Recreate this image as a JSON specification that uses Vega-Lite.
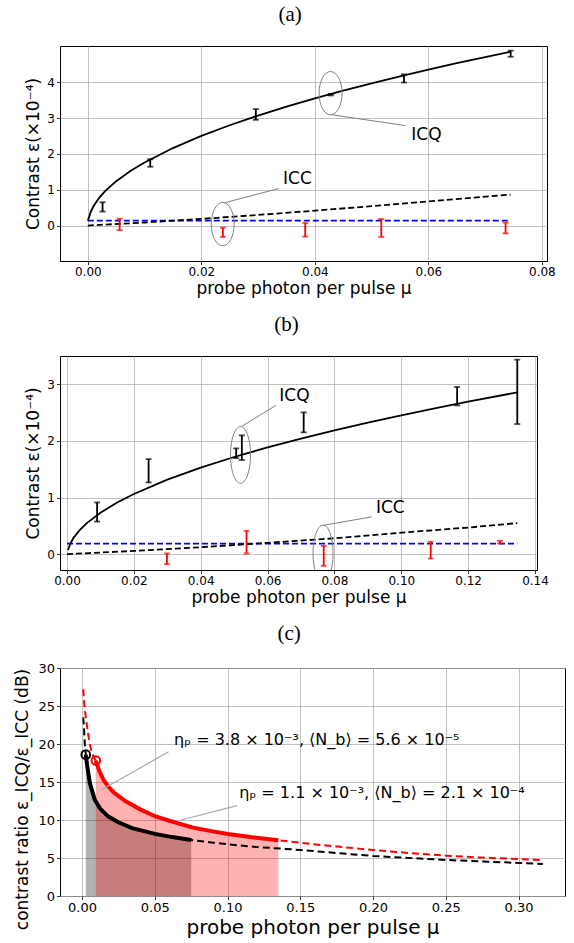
{
  "$schema": "https://vega.github.io/schema/vega-lite/v6.json",
  "padding": {"left": 12, "top": 3, "right": 2, "bottom": 1},
  "spacing": 16,
  "config": {
    "font": "DejaVu Sans",
    "view": {"stroke": "black", "strokeWidth": 1},
    "axis": {"domain": false, "grid": true, "gridColor": "#b0b0b0", "gridWidth": 0.8, "tickColor": "black", "tickSize": 3.5, "tickWidth": 0.8, "labelColor": "black", "titleColor": "black", "titleFontWeight": "normal", "labelPadding": 2, "labelFont": "DejaVu Sans", "titleFont": "DejaVu Sans"},
    "title": {"font": "Liberation Serif", "fontSize": 21, "fontWeight": "normal", "color": "black", "offset": 21, "frame": "bounds"}
  },
  "datasets": {
    "aBlue": [{"x": 0, "y": 0.135}, {"x": 0.0745, "y": 0.135}],
    "aFitC": [{"x": 0, "y": 0}, {"x": 0.01, "y": 0.085}, {"x": 0.02, "y": 0.185}, {"x": 0.03, "y": 0.295}, {"x": 0.04, "y": 0.415}, {"x": 0.05, "y": 0.54}, {"x": 0.06, "y": 0.675}, {"x": 0.0745, "y": 0.865}],
    "aFitQ": [{"x": 0, "y": 0.14}, {"x": 0.0002, "y": 0.226}, {"x": 0.0005, "y": 0.373}, {"x": 0.001, "y": 0.538}, {"x": 0.002, "y": 0.772}, {"x": 0.003, "y": 0.952}, {"x": 0.005, "y": 1.237}, {"x": 0.0075, "y": 1.521}, {"x": 0.01, "y": 1.76}, {"x": 0.015, "y": 2.162}, {"x": 0.02, "y": 2.5}, {"x": 0.025, "y": 2.798}, {"x": 0.03, "y": 3.068}, {"x": 0.035, "y": 3.316}, {"x": 0.04, "y": 3.547}, {"x": 0.045, "y": 3.764}, {"x": 0.05, "y": 3.969}, {"x": 0.055, "y": 4.164}, {"x": 0.06, "y": 4.35}, {"x": 0.065, "y": 4.529}, {"x": 0.07, "y": 4.701}, {"x": 0.0745, "y": 4.851}],
    "aErrQ": [{"x": 0.0026, "y": 0.39, "y2": 0.65}, {"x": 0.011, "y": 1.64, "y2": 1.85}, {"x": 0.0296, "y": 2.95, "y2": 3.25}, {"x": 0.0428, "y": 3.63, "y2": 3.67}, {"x": 0.0557, "y": 3.99, "y2": 4.22}, {"x": 0.0745, "y": 4.71, "y2": 4.88}],
    "aErrC": [{"x": 0.0056, "y": -0.13, "y2": 0.19}, {"x": 0.0238, "y": -0.32, "y2": -0.06}, {"x": 0.0383, "y": -0.31, "y2": 0.07}, {"x": 0.0517, "y": -0.32, "y2": 0.18}, {"x": 0.0736, "y": -0.22, "y2": 0.08}],
    "aEll": [{"x": 0.04277, "y": 3.693}, {"x": 0.02377, "y": 0.04}],
    "aLines": [{"x": 0.0431, "y": 3.088, "x2": 0.05595, "y2": 2.789}, {"x": 0.02424, "y": 0.642, "x2": 0.03363, "y2": 1.032}],
    "aText": [{"x": 0.057, "y": 2.39, "label": "ICQ"}, {"x": 0.0344, "y": 1.155, "label": "ICC"}],
    "bBlue": [{"x": 0, "y": 0.185}, {"x": 0.1347, "y": 0.185}],
    "bFitC": [{"x": 0, "y": 0}, {"x": 0.02, "y": 0.057}, {"x": 0.04, "y": 0.122}, {"x": 0.06, "y": 0.2}, {"x": 0.08, "y": 0.28}, {"x": 0.1, "y": 0.38}, {"x": 0.12, "y": 0.47}, {"x": 0.1347, "y": 0.548}],
    "bFitQ": [{"x": 0.0003, "y": 0.074}, {"x": 0.001, "y": 0.188}, {"x": 0.002, "y": 0.292}, {"x": 0.004, "y": 0.439}, {"x": 0.006, "y": 0.553}, {"x": 0.01, "y": 0.732}, {"x": 0.015, "y": 0.911}, {"x": 0.02, "y": 1.062}, {"x": 0.03, "y": 1.315}, {"x": 0.04, "y": 1.528}, {"x": 0.05, "y": 1.716}, {"x": 0.06, "y": 1.886}, {"x": 0.07, "y": 2.042}, {"x": 0.08, "y": 2.187}, {"x": 0.09, "y": 2.324}, {"x": 0.1, "y": 2.453}, {"x": 0.11, "y": 2.576}, {"x": 0.12, "y": 2.693}, {"x": 0.1347, "y": 2.857}],
    "bErrQ": [{"x": 0.009, "y": 0.575, "y2": 0.913}, {"x": 0.0244, "y": 1.267, "y2": 1.679}, {"x": 0.0506, "y": 1.697, "y2": 1.868}, {"x": 0.0523, "y": 1.662, "y2": 2.098}, {"x": 0.0708, "y": 2.151, "y2": 2.504}, {"x": 0.1167, "y": 2.628, "y2": 2.952}, {"x": 0.1347, "y": 2.298, "y2": 3.435}],
    "bErrC": [{"x": 0.0299, "y": -0.177, "y2": 0.012}, {"x": 0.0537, "y": 0.012, "y2": 0.412}, {"x": 0.0768, "y": -0.206, "y2": 0.147}, {"x": 0.1088, "y": -0.077, "y2": 0.218}, {"x": 0.1295, "y": 0.189, "y2": 0.236}],
    "bEll": [{"x": 0.0519, "y": 1.752}, {"x": 0.0766, "y": 0.012}],
    "bLines": [{"x": 0.0522, "y": 2.254, "x2": 0.0625, "y2": 2.629}, {"x": 0.0769, "y": 0.512, "x2": 0.0911, "y2": 0.658}],
    "bText": [{"x": 0.0635, "y": 2.705, "label": "ICQ"}, {"x": 0.0924, "y": 0.723, "label": "ICC"}],
    "cCurves": [
      {"s": "black", "part": "dash", "x": 0.0009, "y": 23.5}, {"s": "black", "part": "dash", "x": 0.0015, "y": 21.6}, {"s": "black", "part": "dash", "x": 0.002, "y": 19.8},
      {"s": "black", "part": "thick", "x": 0.0026, "y": 18.6}, {"s": "black", "part": "thick", "x": 0.0037, "y": 17.0}, {"s": "black", "part": "thick", "x": 0.0054, "y": 14.85}, {"s": "black", "part": "thick", "x": 0.0088, "y": 12.65}, {"s": "black", "part": "thick", "x": 0.0125, "y": 11.5}, {"s": "black", "part": "thick", "x": 0.0181, "y": 10.45}, {"s": "black", "part": "thick", "x": 0.025, "y": 9.7}, {"s": "black", "part": "thick", "x": 0.0344, "y": 8.92}, {"s": "black", "part": "thick", "x": 0.0502, "y": 8.17}, {"s": "black", "part": "thick", "x": 0.062, "y": 7.75}, {"s": "black", "part": "thick", "x": 0.0751, "y": 7.38},
      {"s": "black", "part": "dash", "x": 0.09, "y": 7.02}, {"s": "black", "part": "dash", "x": 0.1046, "y": 6.72}, {"s": "black", "part": "dash", "x": 0.12, "y": 6.45}, {"s": "black", "part": "dash", "x": 0.15, "y": 6.06}, {"s": "black", "part": "dash", "x": 0.175, "y": 5.65}, {"s": "black", "part": "dash", "x": 0.2, "y": 5.27}, {"s": "black", "part": "dash", "x": 0.25, "y": 4.74}, {"s": "black", "part": "dash", "x": 0.3, "y": 4.35}, {"s": "black", "part": "dash", "x": 0.3167, "y": 4.22},
      {"s": "red", "part": "dash", "x": 0.0009, "y": 27.2}, {"s": "red", "part": "dash", "x": 0.0015, "y": 25.4}, {"s": "red", "part": "dash", "x": 0.002, "y": 24.4}, {"s": "red", "part": "dash", "x": 0.003, "y": 23.0}, {"s": "red", "part": "dash", "x": 0.004, "y": 21.6}, {"s": "red", "part": "dash", "x": 0.005, "y": 20.4}, {"s": "red", "part": "dash", "x": 0.0065, "y": 19.0}, {"s": "red", "part": "dash", "x": 0.008, "y": 18.3},
      {"s": "red", "part": "thick", "x": 0.0095, "y": 17.8}, {"s": "red", "part": "thick", "x": 0.012, "y": 16.4}, {"s": "red", "part": "thick", "x": 0.015, "y": 15.2}, {"s": "red", "part": "thick", "x": 0.0181, "y": 14.4}, {"s": "red", "part": "thick", "x": 0.022, "y": 13.6}, {"s": "red", "part": "thick", "x": 0.0298, "y": 12.5}, {"s": "red", "part": "thick", "x": 0.04, "y": 11.4}, {"s": "red", "part": "thick", "x": 0.0502, "y": 10.5}, {"s": "red", "part": "thick", "x": 0.06, "y": 9.9}, {"s": "red", "part": "thick", "x": 0.0763, "y": 9.0}, {"s": "red", "part": "thick", "x": 0.09, "y": 8.5}, {"s": "red", "part": "thick", "x": 0.1002, "y": 8.15}, {"s": "red", "part": "thick", "x": 0.1158, "y": 7.75}, {"s": "red", "part": "thick", "x": 0.1349, "y": 7.35},
      {"s": "red", "part": "dash", "x": 0.15, "y": 7.0}, {"s": "red", "part": "dash", "x": 0.175, "y": 6.5}, {"s": "red", "part": "dash", "x": 0.2, "y": 6.06}, {"s": "red", "part": "dash", "x": 0.225, "y": 5.65}, {"s": "red", "part": "dash", "x": 0.25, "y": 5.31}, {"s": "red", "part": "dash", "x": 0.275, "y": 5.05}, {"s": "red", "part": "dash", "x": 0.3, "y": 4.87}, {"s": "red", "part": "dash", "x": 0.3167, "y": 4.7}
    ],
    "cCircles": [{"s": "black", "x": 0.0026, "y": 18.6}, {"s": "red", "x": 0.0095, "y": 17.83}],
    "cLines": [{"x": 0.0135, "y": 13.97, "x2": 0.0595, "y2": 18.97}, {"x": 0.0681, "y": 10.0, "x2": 0.1065, "y2": 11.9}],
    "cText": [{"x": 0.0633, "y": 19.9, "label": "ηₚ = 3.8 × 10⁻³, ⟨N_b⟩ = 5.6 × 10⁻⁵"}, {"x": 0.1081, "y": 12.87, "label": "ηₚ = 1.1 × 10⁻³, ⟨N_b⟩ = 2.1 × 10⁻⁴"}]
  },
  "vconcat": [
    {
      "title": "(a)",
      "width": 487,
      "height": 215,
      "encoding": {
        "x": {"field": "x", "type": "quantitative", "scale": {"domain": [-0.0049, 0.0809], "nice": false, "zero": false}, "axis": {"values": [0, 0.02, 0.04, 0.06, 0.08], "format": ".2f", "labelFontSize": 12, "titleFontSize": 17, "titlePadding": 3}, "title": "probe photon per pulse μ"},
        "y": {"field": "y", "type": "quantitative", "scale": {"domain": [-0.99, 5.01], "nice": false, "zero": false}, "axis": {"values": [0, 1, 2, 3, 4], "labelFontSize": 12, "titleFontSize": 17, "titlePadding": 4}, "title": "Contrast ε(×10⁻⁴)"}
      },
      "layer": [
        {"data": {"name": "aBlue"}, "mark": {"type": "line", "color": "#0000ff", "strokeWidth": 1.8, "strokeDash": [6, 3]}},
        {"data": {"name": "aFitC"}, "mark": {"type": "line", "color": "black", "strokeWidth": 1.8, "strokeDash": [6, 3]}},
        {"data": {"name": "aFitQ"}, "mark": {"type": "line", "color": "black", "strokeWidth": 1.8}},
        {"data": {"name": "aErrQ"}, "mark": {"type": "errorbar", "color": "black", "ticks": true, "size": 6, "thickness": 1.8}, "encoding": {"y2": {"field": "y2"}}},
        {"data": {"name": "aErrC"}, "mark": {"type": "errorbar", "color": "#ff0000", "ticks": true, "size": 6, "thickness": 1.8}, "encoding": {"y2": {"field": "y2"}}},
        {"data": {"name": "aEll"}, "mark": {"type": "point", "shape": "M0.53,0 C0.53,0.5523 0.2927,1 0,1 C-0.2927,1 -0.53,0.5523 -0.53,0 C-0.53,-0.5523 -0.2927,-1 0,-1 C0.2927,-1 0.53,-0.5523 0.53,0 Z", "size": 1875, "filled": false, "stroke": "#808080", "strokeWidth": 1, "opacity": 1}},
        {"data": {"name": "aLines"}, "mark": {"type": "rule", "stroke": "#808080", "strokeWidth": 1}, "encoding": {"x2": {"field": "x2"}, "y2": {"field": "y2"}}},
        {"data": {"name": "aText"}, "mark": {"type": "text", "align": "left", "baseline": "alphabetic", "fontSize": 17, "color": "black"}, "encoding": {"text": {"field": "label"}}}
      ]
    },
    {
      "title": "(b)",
      "width": 477,
      "height": 214,
      "encoding": {
        "x": {"field": "x", "type": "quantitative", "scale": {"domain": [-0.0021, 0.1406], "nice": false, "zero": false}, "axis": {"values": [0, 0.02, 0.04, 0.06, 0.08, 0.1, 0.12, 0.14], "format": ".2f", "labelFontSize": 12, "titleFontSize": 17, "titlePadding": 3}, "title": "probe photon per pulse μ"},
        "y": {"field": "y", "type": "quantitative", "scale": {"domain": [-0.28, 3.5], "nice": false, "zero": false}, "axis": {"values": [0, 1, 2, 3], "labelFontSize": 12, "titleFontSize": 17, "titlePadding": 4}, "title": "Contrast ε(×10⁻⁴)"}
      },
      "layer": [
        {"data": {"name": "bBlue"}, "mark": {"type": "line", "color": "#0000ff", "strokeWidth": 1.8, "strokeDash": [6, 3]}},
        {"data": {"name": "bFitC"}, "mark": {"type": "line", "color": "black", "strokeWidth": 1.8, "strokeDash": [6, 3]}},
        {"data": {"name": "bFitQ"}, "mark": {"type": "line", "color": "black", "strokeWidth": 1.8}},
        {"data": {"name": "bErrQ"}, "mark": {"type": "errorbar", "color": "black", "ticks": true, "size": 6, "thickness": 1.8}, "encoding": {"y2": {"field": "y2"}}},
        {"data": {"name": "bErrC"}, "mark": {"type": "errorbar", "color": "#ff0000", "ticks": true, "size": 6, "thickness": 1.8}, "encoding": {"y2": {"field": "y2"}}},
        {"data": {"name": "bEll"}, "mark": {"type": "point", "clip": true, "shape": "M0.353,0 C0.353,0.5523 0.195,1 0,1 C-0.195,1 -0.353,0.5523 -0.353,0 C-0.353,-0.5523 -0.195,-1 0,-1 C0.195,-1 0.353,-0.5523 0.353,0 Z", "size": 3215, "filled": false, "stroke": "#808080", "strokeWidth": 1, "opacity": 1}},
        {"data": {"name": "bLines"}, "mark": {"type": "rule", "stroke": "#808080", "strokeWidth": 1}, "encoding": {"x2": {"field": "x2"}, "y2": {"field": "y2"}}},
        {"data": {"name": "bText"}, "mark": {"type": "text", "align": "left", "baseline": "alphabetic", "fontSize": 17, "color": "black"}, "encoding": {"text": {"field": "label"}}}
      ]
    },
    {
      "title": {"text": "(c)", "offset": 18},
      "width": 505,
      "height": 228,
      "data": {"name": "cCurves"},
      "encoding": {
        "x": {"field": "x", "type": "quantitative", "scale": {"domain": [-0.0151, 0.3319], "nice": false, "zero": false}, "axis": {"values": [0, 0.05, 0.1, 0.15, 0.2, 0.25, 0.3], "format": ".2f", "labelFontSize": 13, "titleFontSize": 20, "titlePadding": 3}, "title": "probe photon per pulse μ"},
        "y": {"field": "y", "type": "quantitative", "scale": {"domain": [0, 30], "nice": false, "zero": false}, "axis": {"values": [0, 5, 10, 15, 20, 25, 30], "labelFontSize": 13, "titleFontSize": 17, "titlePadding": 6.8, "titleY": 131}, "title": "contrast ratio ε_ICQ/ε_ICC (dB)"}
      },
      "layer": [
        {"transform": [{"filter": {"field": "s", "equal": "black"}}, {"filter": {"field": "part", "equal": "thick"}}], "mark": {"type": "area", "color": "black", "opacity": 0.3}},
        {"transform": [{"filter": {"field": "s", "equal": "red"}}, {"filter": {"field": "part", "equal": "thick"}}], "mark": {"type": "area", "color": "#ff0000", "opacity": 0.3}},
        {"transform": [{"filter": {"field": "s", "equal": "black"}}], "mark": {"type": "line", "color": "black", "strokeWidth": 2, "strokeDash": [7, 4]}},
        {"transform": [{"filter": {"field": "s", "equal": "red"}}], "mark": {"type": "line", "color": "#ff0000", "strokeWidth": 2, "strokeDash": [7, 4]}},
        {"transform": [{"filter": {"field": "s", "equal": "black"}}, {"filter": {"field": "part", "equal": "thick"}}], "mark": {"type": "line", "color": "black", "strokeWidth": 4}},
        {"transform": [{"filter": {"field": "s", "equal": "red"}}, {"filter": {"field": "part", "equal": "thick"}}], "mark": {"type": "line", "color": "#ff0000", "strokeWidth": 4}},
        {"data": {"name": "cCircles"}, "mark": {"type": "point", "filled": false, "size": 75, "strokeWidth": 2, "opacity": 1}, "encoding": {"stroke": {"field": "s", "type": "nominal", "scale": {"domain": ["black", "red"], "range": ["black", "#ff0000"]}, "legend": null}}},
        {"data": {"name": "cLines"}, "mark": {"type": "rule", "stroke": "#aaaaaa", "strokeWidth": 1.2}, "encoding": {"x2": {"field": "x2"}, "y2": {"field": "y2"}}},
        {"data": {"name": "cText"}, "mark": {"type": "text", "align": "left", "baseline": "alphabetic", "fontSize": 16, "color": "black"}, "encoding": {"text": {"field": "label"}}}
      ]
    }
  ]
}
